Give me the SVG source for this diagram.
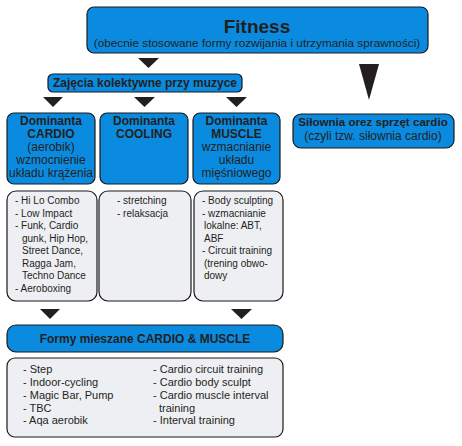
<svg xmlns="http://www.w3.org/2000/svg" width="462" height="446" viewBox="0 0 462 446">
<style>
.blue{fill:#0a8be0;stroke:#1a1a1a;stroke-width:1.2}
.grey{fill:#eeeff3;stroke:#1a1a1a;stroke-width:1.2}
text{font-family:"Liberation Sans",Arial,sans-serif;fill:#231f20}
.b{font-weight:bold;font-size:12px}
.r{font-size:12px}
.s{font-size:10px}
.m{font-size:11px}
.c{text-anchor:middle}
.tri{fill:#231f20}
</style>
<rect width="462" height="446" fill="#fff"/>
<g id="connectors">
<polygon class="tri" points="138,58 159,58 148.5,68"/>
<polygon class="tri" points="359,64 379,64 369,100"/>
<polygon class="tri" points="43,97 63,97 53,107"/>
<polygon class="tri" points="134,97 155,97 144.5,107"/>
<polygon class="tri" points="226,97 247,97 236.5,107"/>
<polygon class="tri" points="40,309 60,309 50,319"/>
<polygon class="tri" points="231,309 252,309 241.5,319"/>
</g>
<g id="fitness">
<rect class="blue" x="87" y="7" width="341" height="46" rx="7"/>
<text x="257" y="33" class="c" style="font-weight:bold;font-size:19px">Fitness</text>
<text x="257" y="47" class="c" style="font-size:11.8px">(obecnie stosowane formy rozwijania i utrzymania sprawności)</text>
</g>
<g id="zajecia">
<rect class="blue" x="48" y="74" width="194" height="18" rx="5"/>
<text x="145" y="87" class="b c">Zajęcia kolektywne przy muzyce</text>
</g>
<g id="silownia">
<rect class="blue" x="293" y="114" width="161" height="34" rx="8"/>
<text x="373" y="126" class="b c" style="font-size:11.6px">Siłownia orez sprzęt cardio</text>
<text x="373" y="140" class="r c">(czyli tzw. siłownia cardio)</text>
</g>
<g id="cardio">
<rect class="blue" x="7" y="113" width="88" height="71" rx="7"/>
<text x="51" y="125" class="b c">Dominanta</text>
<text x="51" y="138" class="b c">CARDIO</text>
<text x="51" y="151" class="r c">(aerobik)</text>
<text x="51" y="164" class="r c">wzmocnienie</text>
<text x="51" y="177" class="r c">układu krążenia</text>
</g>
<g id="cooling">
<rect class="blue" x="100" y="113" width="88" height="71" rx="7"/>
<text x="144" y="125" class="b c">Dominanta</text>
<text x="144" y="138" class="b c">COOLING</text>
</g>
<g id="muscle">
<rect class="blue" x="193" y="113" width="87" height="71" rx="7"/>
<text x="236.5" y="125" class="b c">Dominanta</text>
<text x="236.5" y="138" class="b c">MUSCLE</text>
<text x="236.5" y="151" class="r c">wzmacnianie</text>
<text x="236.5" y="164" class="r c">układu</text>
<text x="236.5" y="177" class="r c">mięśniowego</text>
</g>
<g id="cardio-list">
<rect class="grey" x="7" y="191" width="90" height="110" rx="9"/>
<text class="s" x="15" y="204">- Hi Lo Combo</text>
<text class="s" x="15" y="216.5">- Low Impact</text>
<text class="s" x="15" y="229">- Funk, Cardio</text>
<text class="s" x="22" y="241.5">gunk, Hip Hop,</text>
<text class="s" x="22" y="254">Street Dance,</text>
<text class="s" x="22" y="266.5">Ragga Jam,</text>
<text class="s" x="22" y="279">Techno Dance</text>
<text class="s" x="15" y="292">- Aeroboxing</text>
</g>
<g id="cooling-list">
<rect class="grey" x="99" y="191" width="92" height="110" rx="9"/>
<text class="s" x="117" y="204">- stretching</text>
<text class="s" x="117" y="216.5">- relaksacja</text>
</g>
<g id="muscle-list">
<rect class="grey" x="194" y="191" width="89" height="110" rx="9"/>
<text class="s" x="202" y="204">- Body sculpting</text>
<text class="s" x="202" y="216.5">-  wzmacnianie</text>
<text class="s" x="204" y="229">lokalne: ABT,</text>
<text class="s" x="204" y="241.5">ABF</text>
<text class="s" x="202" y="254">- Circuit training</text>
<text class="s" x="204" y="266.5">(trening obwo-</text>
<text class="s" x="204" y="279">dowy</text>
</g>
<g id="formy">
<rect class="blue" x="7" y="325" width="276" height="27" rx="9"/>
<text x="145" y="343" class="b c">Formy mieszane CARDIO &amp; MUSCLE</text>
</g>
<g id="formy-list">
<rect class="grey" x="7" y="358" width="276" height="79" rx="8"/>
<text class="m" x="23" y="373">- Step</text>
<text class="m" x="23" y="386">- Indoor-cycling</text>
<text class="m" x="23" y="398.5">- Magic Bar, Pump</text>
<text class="m" x="23" y="411.5">- TBC</text>
<text class="m" x="23" y="424">- Aqa aerobik</text>
<text class="m" x="153" y="373">- Cardio circuit training</text>
<text class="m" x="153" y="386">- Cardio body sculpt</text>
<text class="m" x="153" y="398.5">- Cardio muscle interval</text>
<text class="m" x="159" y="411.5">training</text>
<text class="m" x="153" y="424">- Interval training</text>
</g>
</svg>
